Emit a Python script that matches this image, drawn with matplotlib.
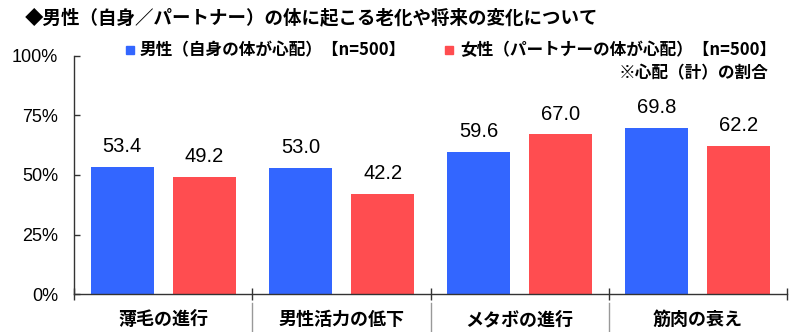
import matplotlib.pyplot as plt
import matplotlib.transforms as mtransforms
import numpy as np

plt.rcParams['font.family'] = ['Noto Sans CJK JP', 'DejaVu Sans']

# 心配（計）の割合 (%)
categories = ['薄毛の進行', '男性活力の低下', 'メタボの進行', '筋肉の衰え']
male_self = [53.4, 53.0, 59.6, 69.8]
female_partner = [49.2, 42.2, 67.0, 62.2]
series_names = ['男性（自身の体が心配）【n=500】', '女性（パートナーの体が心配）【n=500】']
yticks = [0, 25, 50, 75, 100]
ytick_labels = ['0%', '25%', '50%', '75%', '100%']

blue = '#3366FF'
red = '#FF4D50'

fig = plt.figure(figsize=(8, 3.32), dpi=100)
ax = fig.add_axes([0.0929, 0.1136, 0.8905, 0.7187])

x = np.arange(len(categories)) + 0.5
w = 0.355
off = 0.231
b1 = ax.bar(x - off, male_self, w, color=blue)
b2 = ax.bar(x + off, female_partner, w, color=red)

for bars, vals in ((b1, male_self), (b2, female_partner)):
    for rect, v in zip(bars, vals):
        ax.annotate(f'{v:.1f}', (rect.get_x() + rect.get_width() / 2, v),
                    xytext=(0, 10.5), textcoords='offset points',
                    ha='center', va='baseline', fontsize=14.5,
                    family='Liberation Sans')

ax.set_xlim(0, len(categories))
ax.set_ylim(0, 100)

ax.set_yticks(yticks)
ax.set_yticklabels(ytick_labels, family='Liberation Sans', fontsize=13)
ax.tick_params(axis='y', direction='in', length=4.5, width=1, pad=11.5,
               color='#333333')

# category boundaries as major ticks, names on minor ticks
ax.set_xticks(np.arange(len(categories) + 1))
ax.set_xticklabels([])
ax.set_xticks(x, minor=True)
ax.set_xticklabels(categories, minor=True, fontsize=13, fontweight='bold')
ax.tick_params(axis='x', which='major', direction='inout', length=8, width=1,
               color='#333333')
ax.tick_params(axis='x', which='minor', length=0, pad=11.5)

for side in ('top', 'right'):
    ax.spines[side].set_visible(False)
for side in ('left', 'bottom'):
    ax.spines[side].set_color('#333333')
    ax.spines[side].set_linewidth(1)

# separators between category names
trans = mtransforms.blended_transform_factory(ax.transData, ax.transAxes)
for b in range(1, len(categories)):
    ax.plot([b, b], [-0.035, -0.2], color='#999999', lw=1,
            transform=trans, clip_on=False)

fig.text(0.031, 0.945, '◆男性（自身／パートナー）の体に起こる老化や将来の変化について',
         fontsize=13.3, fontweight='bold', va='center', ha='left')

# legend entries
fig.patches.append(plt.Rectangle((126 / 800, 1 - 54 / 332), 8 / 800, 8 / 332,
                                 color=blue, transform=fig.transFigure))
fig.text(140 / 800, 1 - 50 / 332, series_names[0], fontsize=12,
         fontweight='bold', va='center', ha='left')
fig.patches.append(plt.Rectangle((445 / 800, 1 - 54 / 332), 8 / 800, 8 / 332,
                                 color=red, transform=fig.transFigure))
fig.text(460 / 800, 1 - 50 / 332, series_names[1], fontsize=12,
         fontweight='bold', va='center', ha='left')
fig.text(768 / 800, 1 - 73 / 332, '※心配（計）の割合', fontsize=12,
         fontweight='bold', va='center', ha='right')

fig.savefig('out.png', dpi=100)
